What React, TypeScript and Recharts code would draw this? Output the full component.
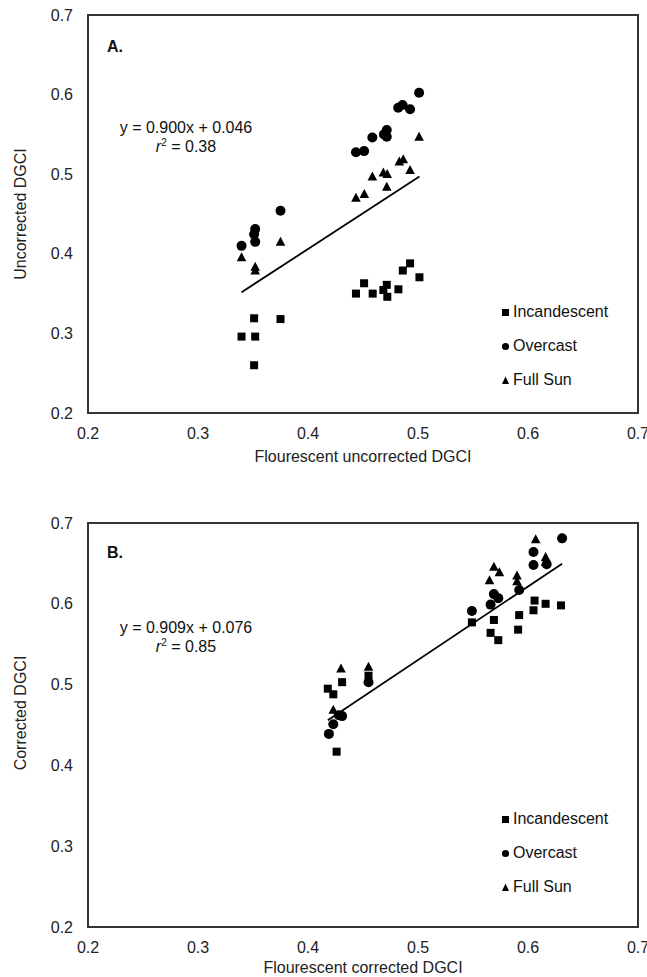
import { ScatterChart, Scatter, XAxis, YAxis, ReferenceArea, ReferenceLine, Legend, Label } from 'recharts'

const FONT = '"Liberation Sans", Arial, sans-serif'
const ticks = [0.2, 0.3, 0.4, 0.5, 0.6, 0.7]
const seriesNames = ['Incandescent', 'Overcast', 'Full Sun']

// A. uncorrected DGCI
const incandescentA = [
  { x: 0.3396, y: 0.296 }, { x: 0.352, y: 0.296 }, { x: 0.351, y: 0.319 }, { x: 0.375, y: 0.318 },
  { x: 0.351, y: 0.26 }, { x: 0.4436, y: 0.35 }, { x: 0.451, y: 0.363 }, { x: 0.4588, y: 0.35 },
  { x: 0.4685, y: 0.3545 }, { x: 0.4716, y: 0.361 }, { x: 0.4721, y: 0.346 }, { x: 0.4822, y: 0.3554 },
  { x: 0.4862, y: 0.379 }, { x: 0.4928, y: 0.388 }, { x: 0.5013, y: 0.3705 },
]
const overcastA = [
  { x: 0.3396, y: 0.41 }, { x: 0.352, y: 0.415 }, { x: 0.351, y: 0.4245 }, { x: 0.352, y: 0.431 },
  { x: 0.375, y: 0.454 }, { x: 0.4436, y: 0.5275 }, { x: 0.451, y: 0.529 }, { x: 0.4585, y: 0.546 },
  { x: 0.469, y: 0.55 }, { x: 0.4716, y: 0.5555 }, { x: 0.4716, y: 0.547 }, { x: 0.482, y: 0.5835 },
  { x: 0.486, y: 0.587 }, { x: 0.4928, y: 0.5815 }, { x: 0.501, y: 0.6024 },
]
const fullSunA = [
  { x: 0.3396, y: 0.3956 }, { x: 0.352, y: 0.3838 }, { x: 0.352, y: 0.379 }, { x: 0.375, y: 0.415 },
  { x: 0.4436, y: 0.4705 }, { x: 0.4512, y: 0.475 }, { x: 0.4585, y: 0.497 }, { x: 0.4685, y: 0.502 },
  { x: 0.472, y: 0.5003 }, { x: 0.4716, y: 0.4843 }, { x: 0.483, y: 0.516 }, { x: 0.4866, y: 0.5187 },
  { x: 0.4928, y: 0.5053 }, { x: 0.501, y: 0.547 },
]
const fitA = { slope: 0.9, intercept: 0.046, eq: 'y = 0.900x + 0.046', r2: '0.38' }

// B. corrected DGCI
const incandescentB = [
  { x: 0.418, y: 0.495 }, { x: 0.423, y: 0.488 }, { x: 0.431, y: 0.503 }, { x: 0.426, y: 0.417 },
  { x: 0.455, y: 0.511 }, { x: 0.549, y: 0.577 }, { x: 0.569, y: 0.58 }, { x: 0.566, y: 0.564 },
  { x: 0.573, y: 0.555 }, { x: 0.592, y: 0.586 }, { x: 0.591, y: 0.568 }, { x: 0.606, y: 0.604 },
  { x: 0.605, y: 0.592 }, { x: 0.616, y: 0.6 }, { x: 0.63, y: 0.598 },
]
const overcastB = [
  { x: 0.419, y: 0.439 }, { x: 0.423, y: 0.451 }, { x: 0.428, y: 0.462 }, { x: 0.431, y: 0.461 },
  { x: 0.455, y: 0.503 }, { x: 0.549, y: 0.591 }, { x: 0.566, y: 0.599 }, { x: 0.569, y: 0.612 },
  { x: 0.573, y: 0.607 }, { x: 0.592, y: 0.617 }, { x: 0.605, y: 0.648 }, { x: 0.605, y: 0.664 },
  { x: 0.617, y: 0.649 }, { x: 0.631, y: 0.681 },
]
const fullSunB = [
  { x: 0.423, y: 0.469 }, { x: 0.43, y: 0.52 }, { x: 0.455, y: 0.522 }, { x: 0.565, y: 0.629 },
  { x: 0.569, y: 0.646 }, { x: 0.574, y: 0.639 }, { x: 0.59, y: 0.635 }, { x: 0.59, y: 0.628 },
  { x: 0.607, y: 0.68 }, { x: 0.616, y: 0.658 }, { x: 0.616, y: 0.652 },
]
const fitB = { slope: 0.909, intercept: 0.076, eq: 'y = 0.909x + 0.076', r2: '0.85' }

const square = (p: any) => <rect x={p.cx - 4} y={p.cy - 4} width={8} height={8} fill="#000" />
const dot = (p: any) => <circle cx={p.cx} cy={p.cy} r={5} fill="#000" />
const tri = (p: any) => (
  <polygon points={`${p.cx},${p.cy - 5} ${p.cx - 4.8},${p.cy + 4} ${p.cx + 4.8},${p.cy + 4}`} fill="#000" />
)

function LegendIcon({ name }: { name: string }) {
  if (name === 'Incandescent') return <rect x={0} y={1} width={7} height={7} fill="#000" />
  if (name === 'Overcast') return <circle cx={3.5} cy={4.5} r={3.6} fill="#000" />
  return <polygon points="3.5,0.5 0,8 7,8" fill="#000" />
}

function LegendBox() {
  return (
    <div style={{ fontFamily: FONT, fontSize: 16, color: '#111' }}>
      {seriesNames.map((n) => (
        <div key={n} style={{ height: 34, display: 'flex', alignItems: 'center' }}>
          <svg width={8} height={9} style={{ marginRight: 3 }}>
            <LegendIcon name={n} />
          </svg>
          {n}
        </div>
      ))}
    </div>
  )
}

function Panel({ top, plotH, xtOffset, tag, tagTop, eqTop, ytShift, legendTop, inc, ovc, sun, fit, xTitle, yTitle }: any) {
  const xs = [...inc, ...ovc, ...sun].map((d: any) => d.x)
  const x0 = Math.min(...xs)
  const x1 = Math.max(...xs)
  const seg = [
    { x: x0, y: fit.slope * x0 + fit.intercept },
    { x: x1, y: fit.slope * x1 + fit.intercept },
  ]
  const h = 15 + plotH + 52
  return (
    <div style={{ position: 'absolute', left: 0, top, width: 647, height: h }}>
      <ScatterChart width={647} height={h} margin={{ top: 15, right: 9, left: 0, bottom: 0 }}>
        <XAxis
          type="number"
          dataKey="x"
          domain={[0.2, 0.7]}
          ticks={ticks}
          interval={0}
          tickFormatter={(v) => v.toFixed(1)}
          tickLine={false}
          axisLine={false}
          tickSize={0}
          tickMargin={15}
          height={52}
          tick={{ fontSize: 16, fill: '#222', fontFamily: FONT }}
          label={{ value: xTitle, position: 'insideBottom', offset: xtOffset, fontSize: 16, fill: '#222', fontFamily: FONT }}
        />
        <YAxis
          type="number"
          dataKey="y"
          domain={[0.2, 0.7]}
          ticks={ticks}
          interval={0}
          tickFormatter={(v) => v.toFixed(1)}
          tickLine={false}
          axisLine={false}
          tickSize={0}
          tickMargin={15}
          width={88}
          tick={{ fontSize: 16, fill: '#222', fontFamily: FONT }}
        >
          <Label
            content={(p: any) => {
              const vb = p.viewBox || {}
              const cx = 20
              const cy = (vb.y ?? 15) + (vb.height ?? plotH) / 2 + ytShift
              return (
                <text
                  x={cx}
                  y={cy}
                  transform={`rotate(-90 ${cx} ${cy})`}
                  textAnchor="middle"
                  dominantBaseline="central"
                  fontSize={16}
                  fill="#222"
                  fontFamily={FONT}
                >
                  {yTitle}
                </text>
              )
            }}
          />
        </YAxis>
        <ReferenceArea x1={0.2} x2={0.7} y1={0.2} y2={0.7} fill="none" stroke="#333" strokeWidth={2} />
        <ReferenceLine segment={seg} stroke="#000" strokeWidth={1.8} />
        <Scatter name="Incandescent" data={inc} shape={square} isAnimationActive={false} />
        <Scatter name="Overcast" data={ovc} shape={dot} isAnimationActive={false} />
        <Scatter name="Full Sun" data={sun} shape={tri} isAnimationActive={false} />
        <Legend
          layout="vertical"
          align="center"
          verticalAlign="middle"
          content={() => <LegendBox />}
          wrapperStyle={{ left: 502, top: legendTop, width: 130 }}
        />
      </ScatterChart>
      <div style={{ position: 'absolute', left: 107, top: tagTop, fontFamily: FONT, fontSize: 16, fontWeight: 'bold', color: '#111', lineHeight: '18px' }}>
        {tag}
      </div>
      <div style={{ position: 'absolute', left: 86, top: eqTop, width: 200, textAlign: 'center', fontFamily: FONT, fontSize: 16, color: '#111', lineHeight: '19px' }}>
        <div>{fit.eq}</div>
        <div>
          <i>r</i>
          <sup style={{ fontSize: 10, lineHeight: 0 }}>2</sup> = {fit.r2}
        </div>
      </div>
    </div>
  )
}

export default function App() {
  return (
    <div style={{ position: 'absolute', left: 0, top: 0, width: 647, height: 977, background: '#fff' }}>
      <Panel
        top={0}
        plotH={398}
        xtOffset={3}
        tag="A."
        tagTop={38}
        eqTop={118}
        ytShift={0}
        legendTop={295}
        inc={incandescentA}
        ovc={overcastA}
        sun={fullSunA}
        fit={fitA}
        xTitle="Flourescent uncorrected DGCI"
        yTitle="Uncorrected DGCI"
      />
      <Panel
        top={508}
        plotH={404}
        xtOffset={6}
        tag="B."
        tagTop={36}
        eqTop={110}
        ytShift={-12}
        legendTop={294}
        inc={incandescentB}
        ovc={overcastB}
        sun={fullSunB}
        fit={fitB}
        xTitle="Flourescent corrected DGCI"
        yTitle="Corrected DGCI"
      />
    </div>
  )
}
